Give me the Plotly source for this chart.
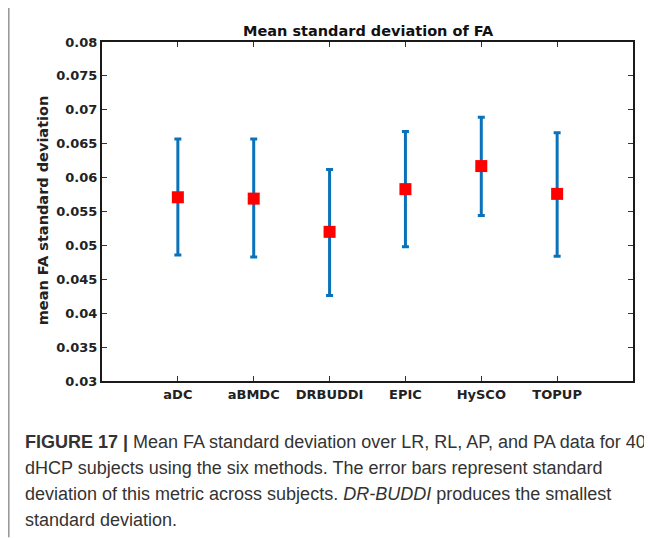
import plotly.graph_objects as go

methods = ["aDC", "aBMDC", "DRBUDDI", "EPIC", "HySCO", "TOPUP"]
mean_sd = [0.0571, 0.0569, 0.0520, 0.0583, 0.0617, 0.0576]
upper = [0.0657, 0.0657, 0.0612, 0.0668, 0.0689, 0.0666]
lower = [0.0486, 0.0483, 0.0426, 0.0498, 0.0544, 0.0484]
y_ticks = [0.03, 0.035, 0.04, 0.045, 0.05, 0.055, 0.06, 0.065, 0.07, 0.075, 0.08]
y_tick_labels = ["0.03", "0.035", "0.04", "0.045", "0.05", "0.055", "0.06", "0.065", "0.07", "0.075", "0.08"]
caption_lines = [
    "<b>FIGURE 17 |</b> Mean FA standard deviation over LR, RL, AP, and PA data for 40",
    "dHCP subjects using the six methods. The error bars represent standard",
    "deviation of this metric across subjects. <i>DR-BUDDI</i> produces the smallest",
    "standard deviation.",
]

OFF = 8  # page body margin
W, H = 652 - OFF, 538 - OFF
L, R, T, B = 101.5 - OFF, 633 - OFF, 42 - OFF, 381.5 - OFF
PW, PH = R - L, B - T

def px(x):
    return (x - OFF - L) / PW

def py(y):
    return (B - (y - OFF)) / PH

xpos = list(range(1, len(methods) + 1))
plus = [u - m for u, m in zip(upper, mean_sd)]
minus = [m - l for m, l in zip(mean_sd, lower)]

fig = go.Figure()
fig.add_trace(go.Scatter(
    x=xpos, y=mean_sd, mode="markers",
    marker=dict(symbol="square", size=12, color="#ff0000", line=dict(width=0)),
    error_y=dict(type="data", symmetric=False, array=plus, arrayminus=minus,
                 color="#0a72ba", thickness=3, width=3.5),
    showlegend=False,
))

tickfont = dict(family="DejaVu Sans", size=13, color="#222222", weight="bold")
fig.update_layout(
    width=W, height=H,
    margin=dict(l=L, r=W - R, t=T, b=H - B, autoexpand=False),
    paper_bgcolor="white", plot_bgcolor="white",
    xaxis=dict(range=[0, 7], tickvals=xpos, ticktext=methods, tickfont=tickfont,
               showline=True, linecolor="#1a1a1a", linewidth=2, mirror="ticks",
               ticks="inside", ticklen=5, tickcolor="#333333", tickwidth=1,
               showgrid=False, zeroline=False, fixedrange=True),
    yaxis=dict(range=[0.03, 0.08], tickvals=y_ticks, ticktext=y_tick_labels, tickfont=tickfont,
               showline=True, linecolor="#1a1a1a", linewidth=2, mirror="ticks",
               ticks="inside", ticklen=5, tickcolor="#333333", tickwidth=1,
               showgrid=False, zeroline=False, fixedrange=True),
)

annotations = [
    dict(text="<b>Mean standard deviation of FA</b>", x=px(368), y=py(31), xref="paper", yref="paper",
         xanchor="center", yanchor="middle", showarrow=False,
         font=dict(family="DejaVu Sans", size=14.5, color="#111111")),
    dict(text="<b>mean FA standard deviation</b>", x=px(42), y=py(211), xref="paper", yref="paper",
         xanchor="center", yanchor="middle", showarrow=False, textangle=-90,
         font=dict(family="DejaVu Sans", size=14.5, color="#222222")),
]
line_y = [443, 469, 495, 521]
for txt, yy in zip(caption_lines, line_y):
    annotations.append(dict(text=txt, x=px(22), y=py(yy), xref="paper", yref="paper",
                            xanchor="left", yanchor="middle", showarrow=False,
                            font=dict(family="Liberation Sans", size=18, color="#333333")))
fig.update_layout(annotations=annotations)

fig.add_shape(type="line", xref="paper", yref="paper", x0=px(8), x1=px(8), y0=py(0), y1=py(538),
              line=dict(color="#999999", width=2))

fig.write_html("out.html")
